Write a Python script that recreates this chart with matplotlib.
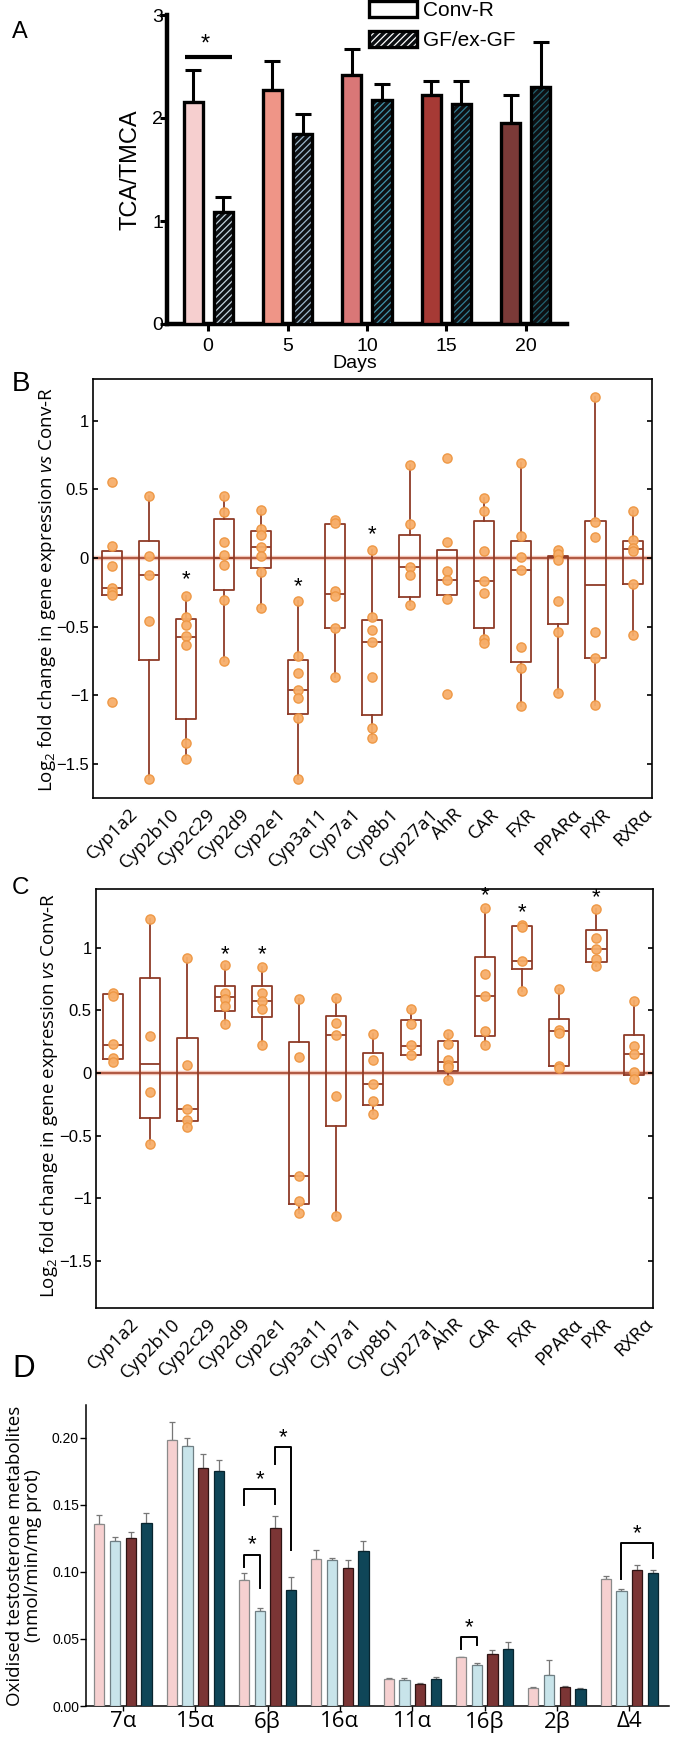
import matplotlib
matplotlib.use('Agg')
import matplotlib.pyplot as plt
from matplotlib import font_manager
from matplotlib.patches import Patch
from matplotlib.legend_handler import HandlerTuple
import numpy as np

# ---------------- data ----------------
# Panel A
days = [0, 5, 10, 15, 20]
convR_mean = [2.16, 2.27, 2.42, 2.22, 1.95]
convR_err = [0.31, 0.28, 0.25, 0.14, 0.27]
gf_mean = [1.09, 1.84, 2.17, 2.14, 2.30]
gf_err = [0.14, 0.20, 0.16, 0.22, 0.44]
convR_colors = ['#f6cfcf', '#ef9587', '#d97777', '#a63a35', '#7b3a38']
gf_colors = ['#c3d3dd', '#9db8cd', '#4193aa', '#317d94', '#22606e']

# Panels B and C
genes = ['Cyp1a2', 'Cyp2b10', 'Cyp2c29', 'Cyp2d9', 'Cyp2e1', 'Cyp3a11', 'Cyp7a1',
         'Cyp8b1', 'Cyp27a1', 'AhR', 'CAR', 'FXR', 'PPARα', 'PXR', 'RXRα']

B_q1 = [-0.27, -0.746, -1.172, -0.235, -0.075, -1.136, -0.508, -1.143, -0.286, -0.269, -0.508, -0.758, -0.484, -0.731, -0.186]
B_med = [-0.218, -0.126, -0.576, 0.0, 0.08, -0.96, -0.26, -0.613, -0.068, -0.157, -0.169, -0.085, 0.007, -0.199, 0.065]
B_q3 = [0.053, 0.126, -0.443, 0.283, 0.2, -0.743, 0.25, -0.453, 0.17, 0.06, 0.266, 0.123, 0.012, 0.266, 0.126]
B_lo = [-0.27, -1.61, -1.466, -0.75, -0.363, -1.61, -0.864, -1.308, -0.339, -0.269, -0.617, -1.078, -0.985, -1.073, -0.557]
B_hi = [0.053, 0.448, -0.274, 0.448, 0.346, -0.315, 0.278, 0.06, 0.678, 0.06, 0.436, 0.69, 0.012, 1.17, 0.339]
B_points = [
    [0.55, 0.09, -0.06, -0.22, -0.245, -0.27, -1.05],
    [0.448, 0.017, -0.126, -0.46, -1.61],
    [-0.274, -0.43, -0.49, -0.57, -0.634, -1.35, -1.466],
    [0.448, 0.334, 0.114, 0.024, -0.048, -0.303, -0.75],
    [0.346, 0.21, 0.17, 0.08, 0.012, -0.10, -0.363],
    [-0.315, -0.71, -0.84, -0.96, -1.02, -1.165, -1.61],
    [0.278, 0.254, -0.242, -0.278, -0.508, -0.864],
    [0.06, -0.43, -0.525, -0.613, -0.864, -1.235, -1.308],
    [0.678, 0.249, -0.068, -0.121, -0.339],
    [0.726, 0.116, -0.097, -0.162, -0.295, -0.988],
    [0.436, 0.339, 0.048, -0.169, -0.257, -0.593, -0.617],
    [0.69, 0.157, 0.007, -0.09, -0.647, -0.80, -1.078],
    [0.056, 0.031, -0.017, -0.31, -0.54, -0.985],
    [1.17, 0.261, 0.153, -0.54, -0.726, -1.073],
    [0.339, 0.128, 0.073, 0.048, -0.186, -0.557],
]
B_star_genes = ['Cyp2c29', 'Cyp3a11', 'Cyp8b1']
B_star_y = [-0.157, -0.21, 0.17]

C_q1 = [0.112, -0.36, -0.387, 0.493, 0.445, -1.049, -0.427, -0.253, 0.147, 0.019, 0.299, 0.832, 0.053, 0.885, -0.013]
C_med = [0.227, 0.072, -0.288, 0.605, 0.579, -0.823, 0.307, -0.085, 0.219, 0.085, 0.619, 0.893, 0.333, 0.992, 0.152]
C_q3 = [0.629, 0.76, 0.28, 0.699, 0.699, 0.245, 0.453, 0.16, 0.427, 0.253, 0.925, 1.173, 0.432, 1.141, 0.307]
C_lo = [0.112, -0.565, -0.432, 0.392, 0.221, -1.116, -1.142, -0.328, 0.147, -0.059, 0.227, 0.653, 0.053, 0.853, -0.045]
C_hi = [0.629, 1.227, 0.915, 0.859, 0.848, 0.592, 0.6, 0.315, 0.515, 0.315, 1.32, 1.173, 0.672, 1.312, 0.573]
C_points = [
    [0.64, 0.619, 0.235, 0.12, 0.085],
    [1.227, 0.293, -0.152, -0.565],
    [0.915, 0.067, -0.288, -0.373, -0.432],
    [0.859, 0.64, 0.595, 0.533, 0.392],
    [0.848, 0.64, 0.573, 0.515, 0.221],
    [0.592, 0.128, -0.823, -1.022, -1.116],
    [0.6, 0.4, 0.307, -0.187, -1.142],
    [0.315, 0.107, -0.085, -0.221, -0.328],
    [0.515, 0.395, 0.227, 0.147],
    [0.315, 0.235, 0.101, 0.061, 0.048, -0.059],
    [1.32, 0.792, 0.619, 0.333, 0.227],
    [1.179, 1.165, 0.893, 0.653],
    [0.672, 0.347, 0.32, 0.059, 0.04],
    [1.312, 1.08, 0.992, 0.907, 0.853],
    [0.573, 0.213, 0.152, 0.005, -0.045],
]
C_star_genes = ['Cyp2d9', 'Cyp2e1', 'CAR', 'FXR', 'PXR']
C_star_y = [0.947, 0.947, 1.413, 1.28, 1.40]

# Panel D
metabolites = ['7α', '15α', '6β', '16α', '11α', '16β', '2β', 'Δ4']
D_vals = [
    [0.1355, 0.1988, 0.0937, 0.1096, 0.0199, 0.0364, 0.0134, 0.0944],
    [0.1233, 0.1938, 0.0710, 0.1088, 0.0192, 0.0304, 0.0234, 0.0859],
    [0.1250, 0.1776, 0.1328, 0.1029, 0.0164, 0.0386, 0.0142, 0.1016],
    [0.1365, 0.1756, 0.0869, 0.1153, 0.0199, 0.0423, 0.0130, 0.0989],
]
D_errs = [
    [0.0067, 0.0129, 0.0052, 0.0070, 0.0013, 0.0005, 0.0005, 0.0025],
    [0.0030, 0.0062, 0.0022, 0.0015, 0.0015, 0.0015, 0.0112, 0.0015],
    [0.0048, 0.0104, 0.0092, 0.0064, 0.0005, 0.0032, 0.0005, 0.0035],
    [0.0072, 0.0077, 0.0092, 0.0077, 0.0018, 0.0053, 0.0007, 0.0027],
]
D_colors = ['#f6d0d0', '#c8e4ea', '#7b3535', '#0f4658']
D_edges = ['#8a8a8a', '#6f7f84', '#2e1414', '#08252f']
# brackets: (metabolite index, bar a, bar b, top, leg a end, leg b end)
D_br_cat = [2, 2, 2, 5, 7]
D_br_a = [0, 0, 2, 0, 1]
D_br_b = [1, 2, 3, 1, 3]
D_br_top = [0.1128, 0.1619, 0.1933, 0.0513, 0.1215]
D_br_lega = [0.1036, 0.1502, 0.1808, 0.0423, 0.0946]
D_br_legb = [0.0879, 0.1510, 0.1166, 0.0453, 0.1103]

# ---------------- fonts ----------------
names = {f.name for f in font_manager.fontManager.ttflist}
SANS = 'Liberation Sans' if 'Liberation Sans' in names else 'DejaVu Sans'
MYR = 'Open Sans' if 'Open Sans' in names else SANS
NARROW = 'Liberation Sans Narrow' if 'Liberation Sans Narrow' in names else SANS

plt.rcParams['font.family'] = [SANS, 'DejaVu Sans']
plt.rcParams['mathtext.fontset'] = 'custom'
plt.rcParams['mathtext.rm'] = MYR
plt.rcParams['mathtext.it'] = MYR + ':italic'
plt.rcParams['hatch.linewidth'] = 0.9

W, H = 682, 1744
fig = plt.figure(figsize=(W / 100, H / 100), dpi=100)


def rect(l, t, r, b):
    return [l / W, 1 - b / H, (r - l) / W, (b - t) / H]


def ftext(x, y, s, **kw):
    fig.text(x / W, 1 - y / H, s, **kw)


# ---------------- Panel A ----------------
axA = fig.add_axes(rect(167, 15, 567, 324))
off, bw = 0.95, 1.2
for i, d in enumerate(days):
    axA.bar(d - off, convR_mean[i], bw, color=convR_colors[i], edgecolor='black',
            linewidth=2.4, zorder=3)
    axA.errorbar(d - off, convR_mean[i], yerr=[[0], [convR_err[i]]], fmt='none',
                 ecolor='black', elinewidth=2.2, capsize=5.5, capthick=2.2, zorder=2)
    axA.bar(d + off, gf_mean[i], bw, color='#0d1013', edgecolor=gf_colors[i],
            hatch='/////', linewidth=0, zorder=3)
    axA.bar(d + off, gf_mean[i], bw, fill=False, edgecolor='black', linewidth=2.4, zorder=4)
    axA.errorbar(d + off, gf_mean[i], yerr=[[0], [gf_err[i]]], fmt='none',
                 ecolor='black', elinewidth=2.2, capsize=5.5, capthick=2.2, zorder=2)
axA.set_xlim(-2.59, 22.6)
axA.set_ylim(0, 3)
for s in ['top', 'right']:
    axA.spines[s].set_visible(False)
for s in ['left', 'bottom']:
    axA.spines[s].set_linewidth(3.2)
axA.set_yticks([0, 1, 2, 3])
axA.set_xticks(days)
axA.tick_params(axis='y', length=5, width=2.2, pad=-2.2, labelsize=14)
axA.tick_params(axis='x', length=5, width=2.2, pad=5, labelsize=14)
axA.set_ylabel('TCA/TMCA', fontsize=17, labelpad=8)
axA.set_xlabel('Days', fontsize=14)
axA.xaxis.set_label_coords(0.47, -0.10)
axA.plot([-1.45, 1.51], [2.59, 2.59], color='black', lw=3, solid_capstyle='butt')
axA.text(-0.19, 2.71, '*', fontsize=17, ha='center', va='center')

hA1 = Patch(facecolor='white', edgecolor='black', linewidth=2.4)
hA2 = (Patch(facecolor='#0d1013', edgecolor='white', hatch='/////', linewidth=0),
       Patch(fill=False, edgecolor='black', linewidth=2.4))
fig.legend([hA1, hA2], ['Conv-R', 'GF/ex-GF'], loc='upper left',
           bbox_to_anchor=(368 / W, 1 - 0 / H), frameon=False, fontsize=15,
           handlelength=2.3, handleheight=0.8, labelspacing=0.5, handletextpad=0.3,
           borderpad=0.05, borderaxespad=0,
           handler_map={tuple: HandlerTuple(ndivide=1, pad=0)})

# ---------------- Panels B, C ----------------
BROWN = '#8f3b27'


def box_panel(ax, q1, med, q3, lo, hi, pts, star_genes, star_y, ylim, xlim):
    stats = []
    for i in range(len(genes)):
        stats.append(dict(med=med[i], q1=q1[i], q3=q3[i], whislo=lo[i], whishi=hi[i],
                          fliers=[], label=genes[i]))
    ax.axhline(0, color='#f2c4b6', lw=3.2, zorder=1)
    ax.axhline(0, color='#a4462f', lw=1.2, zorder=1.5)
    ax.bxp(stats, positions=range(len(genes)), widths=0.54, showcaps=False,
           showfliers=False, patch_artist=False,
           boxprops=dict(color=BROWN, lw=1.3),
           whiskerprops=dict(color=BROWN, lw=1.3),
           medianprops=dict(color=BROWN, lw=1.3), zorder=2)
    for i, p in enumerate(pts):
        ax.scatter(np.full(len(p), i), p, s=44, facecolor='#f7ae6a',
                   edgecolor='#ee9642', linewidth=1.0, zorder=4, alpha=0.95)
    for g, y in zip(star_genes, star_y):
        ax.text(genes.index(g), y, '*', fontsize=16, ha='center', va='center', zorder=5)
    ax.set_xlim(*xlim)
    ax.set_ylim(*ylim)
    ax.set_yticks([-1.5, -1, -0.5, 0, 0.5, 1])
    ax.set_yticklabels(['−1.5', '−1', '−0.5', '0', '0.5', '1'])
    ax.tick_params(axis='y', direction='in', length=3.5, width=1.2, pad=3,
                   labelsize=12, right=True, left=True)
    ax.set_xticks(range(len(genes)))
    ax.set_xticklabels(genes, rotation=45, ha='center', va='top', fontsize=13.5,
                       family=MYR)
    ax.tick_params(axis='x', length=0, pad=5)
    for s in ax.spines.values():
        s.set_linewidth(1.2)


axB = fig.add_axes(rect(93, 379, 652, 798))
box_panel(axB, B_q1, B_med, B_q3, B_lo, B_hi, B_points, B_star_genes, B_star_y,
          (-1.747, 1.303), (-0.51, 14.52))
axC = fig.add_axes(rect(96, 889, 653, 1308))
box_panel(axC, C_q1, C_med, C_q3, C_lo, C_hi, C_points, C_star_genes, C_star_y,
          (-1.877, 1.47), (-0.46, 14.52))

ylab = 'Log$_2$ fold change in gene expression $\\it{vs}$ Conv-R'
ftext(47, 590, ylab, rotation=90, ha='center', va='center', fontsize=13.5, family=MYR)
ftext(49, 1096, ylab, rotation=90, ha='center', va='center', fontsize=13.5, family=MYR)

# ---------------- Panel D ----------------
axD = fig.add_axes(rect(86, 1405, 669, 1706))
xD = np.arange(len(metabolites))
step, dbw = 0.217, 0.142
offs = [(k - 1.5) * step for k in range(4)]
for k in range(4):
    axD.bar(xD + offs[k], D_vals[k], dbw, color=D_colors[k], edgecolor=D_edges[k],
            linewidth=0.9, zorder=3)
    axD.errorbar(xD + offs[k], D_vals[k], yerr=[np.zeros(len(xD)), D_errs[k]], fmt='none',
                 ecolor='#777777', elinewidth=0.9, capsize=2.2, capthick=0.9, zorder=2)
for c, a, b, top, la, lb in zip(D_br_cat, D_br_a, D_br_b, D_br_top, D_br_lega, D_br_legb):
    xa, xb = c + offs[a], c + offs[b]
    axD.plot([xa, xa, xb, xb], [la, top, top, lb], color='black', lw=1.4, zorder=5)
    axD.text((xa + xb) / 2, top + 0.0072, '*', fontsize=16, ha='center', va='center', zorder=5)
axD.set_xlim(-0.51, 7.55)
axD.set_ylim(0, 0.2246)
for s in ['top', 'right']:
    axD.spines[s].set_visible(False)
for s in ['left', 'bottom']:
    axD.spines[s].set_linewidth(1.1)
axD.set_yticks([0, 0.05, 0.10, 0.15, 0.20])
axD.set_yticklabels(['0.00', '0.05', '0.10', '0.15', '0.20'], family=NARROW)
axD.tick_params(axis='y', length=4, width=1.0, pad=1, labelsize=10)
axD.set_xticks(xD)
axD.set_xticklabels(metabolites, family=MYR, fontsize=16)
axD.tick_params(axis='x', length=3.5, width=1.0, pad=0)
ftext(24, 1556, 'Oxidised testosterone metabolites\n(nmol/min/mg prot)', rotation=90,
      ha='center', va='center', fontsize=13.5, family=MYR, linespacing=0.95,
      multialignment='center')

# panel letters
ftext(12, 21, 'A', fontsize=17, va='top', ha='left')
ftext(12, 371, 'B', fontsize=20, va='top', ha='left')
ftext(12, 877, 'C', fontsize=17.5, va='top', ha='left')
ftext(12, 1354, 'D', fontsize=22.5, va='top', ha='left')

fig.savefig('out.png', dpi=100)
